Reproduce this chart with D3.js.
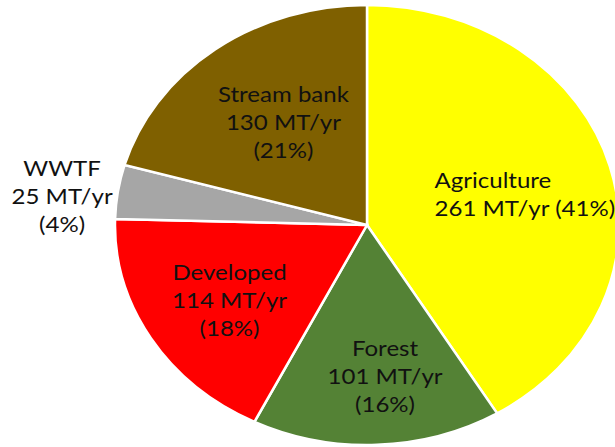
<!DOCTYPE html>
<html>
<head>
<meta charset="utf-8">
<script src="https://cdn.jsdelivr.net/npm/d3@7"></script>
<style>
  html, body { margin: 0; padding: 0; background: #fff; }
  svg { display: block; }
</style>
</head>
<body>
<svg id="chart" width="615" height="447"></svg>
<script>
// slice data, clockwise from 12 o'clock
const sources = ['Agriculture', 'Forest', 'Developed', 'WWTF', 'Stream bank'];
const loads = [261, 101, 114, 25, 130];           // MT/yr
const shares = ['41%', '16%', '18%', '4%', '21%'];

const colors = ['#ffff00', '#548235', '#ff0000', '#a6a6a6', '#7f6000'];

// label placement: fraction of radius along slice mid-angle, plus a small nudge (px)
const labelRadius = [0.65, 0.70, 0.65, 1.22, 0.55];
const labelNudge = [[0, 8], [11, -2], [3, 2], [-1, 13], [0, -5]];
const labelLines = [
  d => [d.name, `${d.value} MT/yr (${d.share})`],
  d => [d.name, `${d.value} MT/yr`, `(${d.share})`],
  d => [d.name, `${d.value} MT/yr`, `(${d.share})`],
  d => [d.name, `${d.value} MT/yr`, `(${d.share})`],
  d => [d.name, `${d.value} MT/yr`, `(${d.share})`]
];
const labelAlign = ['left', 'middle', 'middle', 'middle', 'middle'];

const cx = 367, cy = 225;
const ry = 220, rx = 252;
const sx = rx / ry;       // the original picture is stretched horizontally
const lineHeight = 28;

const svg = d3.select('#chart');

const rows = sources.map((name, i) => ({
  name, value: loads[i], share: shares[i], i
}));

const pie = d3.pie()
  .value(d => d.value)
  .sort(null);

const arcs = pie(rows);

const arc = d3.arc()
  .innerRadius(0)
  .outerRadius(ry);

const pieG = svg.append('g')
  .attr('transform', `translate(${cx},${cy}) scale(${sx},1)`);

pieG.selectAll('path.slice')
  .data(arcs)
  .enter()
  .append('path')
  .attr('class', 'slice')
  .attr('d', arc)
  .style('fill', d => colors[d.data.i])
  .style('stroke', '#fff')
  .style('stroke-width', 2.5)
  .attr('vector-effect', 'non-scaling-stroke');

const labelG = svg.append('g');

arcs.forEach(d => {
  const i = d.data.i;
  const r = ry * labelRadius[i];
  const c = d3.arc().innerRadius(r).outerRadius(r).centroid(d);
  const x = cx + c[0] * sx + labelNudge[i][0];
  const y = cy + c[1] + labelNudge[i][1];
  const lines = labelLines[i](d.data);

  const t = labelG.append('text')
    .attr('transform', `translate(${x},${y}) scale(${sx},1)`)
    .style('font-family', 'Lato, "Open Sans", sans-serif')
    .style('font-size', '21px')
    .style('fill', '#111');

  const y0 = -(lines.length - 1) * lineHeight / 2 + 7;
  const spans = lines.map((s, k) => t.append('tspan')
    .attr('y', y0 + k * lineHeight)
    .text(s));

  if (labelAlign[i] === 'left') {
    const maxW = d3.max(spans, s => s.node().getComputedTextLength());
    spans.forEach(s => s.attr('x', -maxW / 2));
    t.attr('text-anchor', 'start');
  } else {
    spans.forEach(s => s.attr('x', 0));
    t.attr('text-anchor', 'middle');
  }
});
</script>
</body>
</html>
